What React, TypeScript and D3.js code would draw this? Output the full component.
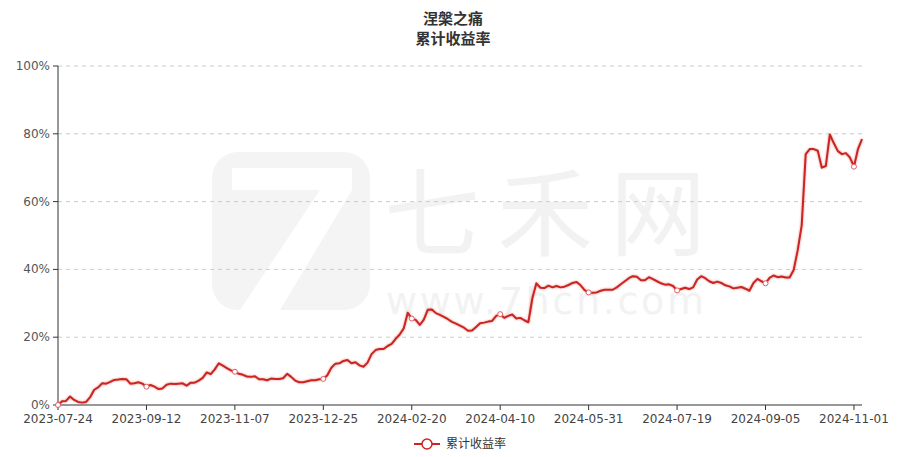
import React from "react";
import * as d3 from "d3";

const tickLabels = [
  "2023-07-24", "2023-09-12", "2023-11-07", "2023-12-25", "2024-02-20",
  "2024-04-10", "2024-05-31", "2024-07-19", "2024-09-05", "2024-11-01",
];
const tickEvery = 22;
const yTicks = [0, 20, 40, 60, 80, 100];

// cumulative return (%)
const returns = [
  0, 1.1, 1.2, 2.5, 1.5, 0.9, 0.7, 0.9, 2.3, 4.5,
  5.2, 6.4, 6.3, 6.8, 7.4, 7.5, 7.7, 7.6, 6.3, 6.4,
  6.7, 6.3, 5.4, 5.9, 5.4, 4.7, 4.9, 6.0, 6.3, 6.2,
  6.3, 6.4, 5.7, 6.6, 6.6, 7.2, 8.0, 9.6, 9.1, 10.5,
  12.3, 11.6, 10.9, 10.2, 9.8, 9.2, 8.9, 8.4, 8.3, 8.5,
  7.6, 7.6, 7.3, 7.8, 7.7, 7.7, 7.9, 9.2, 8.3, 7.2,
  6.7, 6.7, 7.0, 7.3, 7.3, 7.6, 7.7, 8.8, 11.0, 12.2,
  12.3, 13.0, 13.3, 12.3, 12.6, 11.7, 11.3, 12.5, 15.0, 16.2,
  16.5, 16.5, 17.4, 18.0, 19.5, 20.8, 22.6, 27.2, 25.5, 25.1,
  23.6, 25.2, 28.1, 28.2, 27.1, 26.6, 26.0, 25.3, 24.5, 24.0,
  23.4, 22.8, 21.9, 22.0, 23.0, 24.1, 24.3, 24.6, 24.8, 26.3,
  26.8, 25.7, 26.3, 26.7, 25.5, 25.7, 25.0, 24.4, 31.5, 35.9,
  34.6, 34.5, 35.2, 34.7, 35.1, 34.7, 34.9, 35.4, 36.0, 36.3,
  35.3, 33.9, 33.2, 33.1, 33.2, 33.7, 34.0, 34.0, 34.0, 34.7,
  35.6, 36.5, 37.4, 38.0, 37.8, 36.8, 36.8, 37.7, 37.1, 36.5,
  35.9, 35.5, 35.6, 35.1, 33.8, 34.2, 34.6, 34.2, 34.7, 37.0,
  38.0, 37.4, 36.5, 36.0, 36.4, 36.0, 35.3, 35.0, 34.4, 34.6,
  34.8, 34.3, 33.7, 36.0, 37.2, 36.5, 35.9, 37.5, 38.2, 37.7,
  37.9, 37.6, 37.6, 39.8, 45.6, 53.0, 74.0, 75.5, 75.5, 75.0,
  70.0, 70.5, 79.8, 77.2, 74.9, 74.0, 74.3, 73.0, 70.3, 75.5,
  78.4,
];

const seriesName = "累计收益率";
const titleLines = ["涅槃之痛", "累计收益率"];

const W = 906;
const H = 457;
const left = 58;
const right = 862;
const top = 66;
const bottom = 405;
const RED = "#cc2420";
const FONT = "'DejaVu Sans', 'Noto Sans CJK SC', sans-serif";
const CJK = "'Noto Sans CJK SC', sans-serif";

export default function App() {
  const idx = returns.map((_, i) => i);
  const x = d3.scalePoint<number>().domain(idx).range([left, right]);
  const y = d3.scaleLinear().domain([0, 100]).range([bottom, top]);
  const line = d3
    .line<number>()
    .x((_, i) => x(i) as number)
    .y((d) => y(d))
    .curve(d3.curveLinear);
  const tickIdx = tickLabels.map((_, k) => k * tickEvery);

  return (
    <svg
      width={W}
      height={H}
      style={{ position: "absolute", left: 0, top: 0, background: "#fff" }}
    >
      {/* watermark */}
      <g fill="#f4f4f4">
        <rect x={212} y={152} width={158} height={158} rx={26} />
        <path d="M 232 168 L 352 168 L 352 190 L 280 310 L 240 310 L 320 190 L 232 190 Z" fill="#fff" />
        <text x={384} y={248} fontFamily={CJK} fontSize={96} fill="#f2f2f2" textLength={322}>
          七禾网
        </text>
        <text x={386} y={314} fontFamily={FONT} fontSize={38} fill="#f2f2f2" textLength={318}>
          www.7hcn.com
        </text>
      </g>

      {/* title */}
      <g fontFamily={CJK} fontWeight="bold" fontSize={15} fill="#333" textAnchor="middle">
        <text x={453} y={24}>{titleLines[0]}</text>
        <text x={453} y={44}>{titleLines[1]}</text>
      </g>

      {/* grid + y axis labels */}
      {yTicks.map((t) => (
        <g key={t}>
          {t > 0 && (
            <line
              x1={left}
              x2={right}
              y1={y(t)}
              y2={y(t)}
              stroke="#ccc"
              strokeDasharray="4,4"
            />
          )}
          <line x1={left - 5} x2={left} y1={y(t)} y2={y(t)} stroke="#333" />
          <text
            x={left - 8}
            y={y(t) + 4}
            textAnchor="end"
            fontFamily={FONT}
            fontSize={12}
            fill="#555"
          >
            {t}%
          </text>
        </g>
      ))}

      {/* axes */}
      <line x1={left} x2={left} y1={top} y2={bottom} stroke="#333" />
      <line x1={left} x2={right} y1={bottom} y2={bottom} stroke="#333" />
      {tickIdx.map((ti, k) => (
        <g key={ti}>
          <line
            x1={x(ti)}
            x2={x(ti)}
            y1={bottom}
            y2={bottom + 5}
            stroke="#333"
          />
          <text
            x={x(ti)}
            y={bottom + 18}
            textAnchor="middle"
            fontFamily={FONT}
            fontSize={12}
            fill="#444"
          >
            {tickLabels[k]}
          </text>
        </g>
      ))}

      {/* series */}
      <path
        d={line(returns) || ""}
        fill="none"
        stroke={RED}
        strokeWidth={2}
        strokeLinejoin="round"
        style={{ filter: "drop-shadow(0 0 1px rgba(204,36,32,0.5))" }}
      />
      {tickIdx.map((ti) => (
        <circle
          key={ti}
          cx={x(ti)}
          cy={y(returns[ti])}
          r={2.5}
          fill="#fff"
          stroke="#e06060"
          strokeWidth={1}
        />
      ))}

      {/* legend */}
      <g>
        <line x1={414} x2={440} y1={444} y2={444} stroke={RED} strokeWidth={2} />
        <circle cx={427} cy={444} r={5} fill="#fff" stroke={RED} strokeWidth={1.5} />
        <text x={446} y={448} fontFamily={CJK} fontSize={12} fill="#333">
          {seriesName}
        </text>
      </g>
    </svg>
  );
}
